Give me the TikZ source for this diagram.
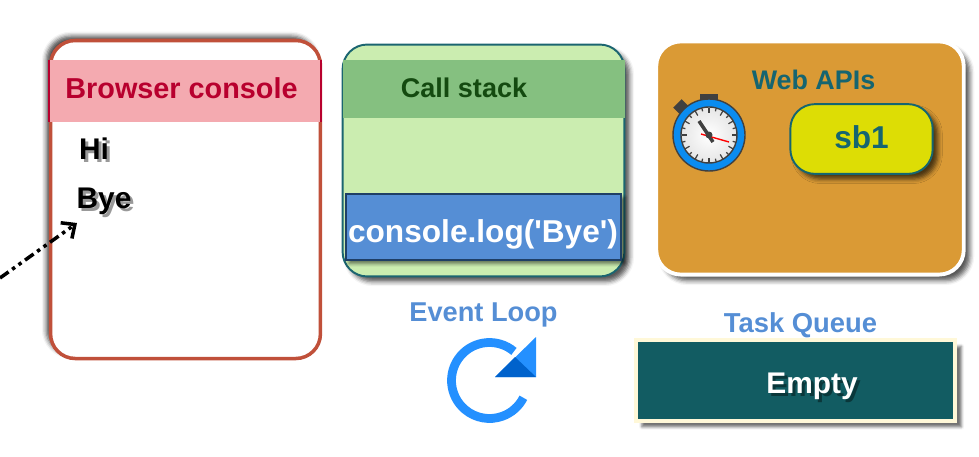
\documentclass[tikz,border=0pt]{standalone}
\usepackage{fontspec}
\setmainfont{Liberation Sans}
\newfontfamily\logfont{Liberation Sans}
\usetikzlibrary{shadows.blur, arrows.meta}

\definecolor{consoleline}{HTML}{C0503A}
\definecolor{consolehead}{HTML}{F4AAB0}
\definecolor{consoletext}{HTML}{B8002E}
\definecolor{stackfill}{HTML}{CBEDB0}
\definecolor{stackhead}{HTML}{85C080}
\definecolor{stackline}{HTML}{1B6570}
\definecolor{stacktext}{HTML}{144A10}
\definecolor{logfill}{HTML}{558ED5}
\definecolor{logline}{HTML}{1F3F66}
\definecolor{apifill}{HTML}{DA9A35}
\definecolor{apitext}{HTML}{156570}
\definecolor{timerfill}{HTML}{DDDD05}
\definecolor{queuefill}{HTML}{125C62}
\definecolor{queueline}{HTML}{FFF8D8}
\definecolor{loopblue}{HTML}{2490FF}
\definecolor{loopdark}{HTML}{0062CC}
\definecolor{ringblue}{HTML}{0A8CF0}
\definecolor{clockgray}{HTML}{404040}

\tikzset{
  panel/.style = {rectangle, inner sep=0pt, outer sep=0pt, rounded corners=14pt},
  softshadow/.style = {blur shadow={shadow xshift=3pt, shadow yshift=-3pt, shadow blur radius=2.5pt, shadow opacity=65}},
  label/.style = {anchor=base, inner sep=0pt, font=\bfseries},
  tick/.style = {clockgray, line width=0.7pt}
}

% text with a dark copy under it
\newcommand{\shadowtext}[5]{
  \path (#2) ++(3,3) node[label, #3, text=black, opacity=0.4] {#5};
  \path (#2) node[label, #3, text=#4] (#1) {#5};
}

\begin{document}
\begin{tikzpicture}[x=0.02cm, y=-0.02cm]
\useasboundingbox (0,0) rectangle (979,456);

% browser console
\path (185.5,199.5) node[panel, draw=consoleline, line width=2pt, fill=white, minimum width=153.6pt, minimum height=181pt,
  blur shadow={shadow xshift=-2.5pt, shadow yshift=2.5pt, shadow blur radius=2.5pt, shadow opacity=70}] (browser) {};
\fill[consolehead] (49,60) rectangle (321,122);
\draw[consoletext, line width=1.5pt] (49,60) -- (49,122) (321,60) -- (321,122);
\path (181.5,98) node[label, text=consoletext, font=\bfseries\fontsize{16.4}{18}\selectfont] (consolelabel) {Browser console};
\shadowtext{hi}{94,159}{font=\bfseries\fontsize{17}{20}\selectfont}{black}{Hi}
\shadowtext{bye}{104,208}{font=\bfseries\fontsize{17}{20}\selectfont}{black}{Bye}

% call stack
\path (483.5,160.5) node[panel, draw=stackline, line width=1.1pt, fill=stackfill, minimum width=160.4pt, minimum height=132pt, softshadow] (stack) {};
\fill[stackhead] (343,60) rectangle (624.5,118);
\path (464,97) node[label, text=stacktext, font=\bfseries\fontsize{15.4}{18}\selectfont] (stacklabel) {Call stack};
\path (483.5,227) node[rectangle, inner sep=0pt, draw=logline, line width=1.1pt, fill=logfill, minimum width=157pt, minimum height=37.4pt,
  blur shadow={shadow xshift=2pt, shadow yshift=-2pt, shadow blur radius=2pt, shadow opacity=55}] (logbox) {};
\path (483,242) node[label, text=white, font=\logfont\bfseries\fontsize{18}{20}\selectfont] (loglabel) {console.log('Bye')};

% web apis
\path (810,158) node[panel, draw=white, line width=2.2pt, fill=apifill, minimum width=175pt, minimum height=132.7pt,
  blur shadow={shadow xshift=3.5pt, shadow yshift=-3.5pt, shadow blur radius=2.5pt, shadow opacity=65}] (webapi) {};
\path (813.5,90) node[label, text=apitext, font=\bfseries\fontsize{15.3}{18}\selectfont] (apilabel) {Web APIs};
\path (861.5,139) node[panel, draw=apitext, line width=1.1pt, fill=timerfill, minimum width=81pt, minimum height=39.7pt, softshadow] (timer) {};
\path (861.5,148) node[label, text=apitext, font=\bfseries\fontsize{18}{20}\selectfont] (timerlabel) {sb1};

% stopwatch
\coordinate (clock) at (709,135);
\fill[clockgray] (700,94) rectangle (718,104);
\fill[clockgray, rotate around={45:(681,107)}] (675,102) rectangle (687,112);
\draw[clockgray, line width=0.8pt, fill=ringblue] (clock) circle (36);
\draw[clockgray, line width=0.8pt, inner color=white, outer color=gray!20] (clock) circle (28);
\foreach \a in {0,30,...,330}
  \draw[tick] (clock) ++(\a:27.5) -- ++(\a:-5);
\foreach \a in {15,45,...,345}
  \draw[tick] (clock) ++(\a:27.5) -- ++(\a:-3);
\draw[clockgray, line width=2pt] (699,121) -- (713,142);
\draw[red, line width=0.8pt] (701,134) -- (729,142);
\fill[clockgray] (clock) circle (3.5);

% event loop
\path (483.5,321) node[label, text=logfill, font=\bfseries\fontsize{15.5}{18}\selectfont] (looplabel) {Event Loop};
\draw[loopblue, line width=5pt] (489.5,380.5) ++(-50:38) arc (-50:-333:38);
\fill[loopblue] (536,337) -- (536,377) -- (495,377) -- cycle;
\fill[loopdark] (515,357) -- (536,377) -- (495,377) -- cycle;

% task queue
\path (800.5,332) node[label, text=logfill, font=\bfseries\fontsize{15.6}{18}\selectfont] (queuelabel) {Task Queue};
\path (795.5,380.5) node[rectangle, inner sep=0pt, draw=queueline, line width=2.3pt, fill=queuefill, minimum width=182pt, minimum height=45.9pt,
  blur shadow={shadow xshift=3.5pt, shadow yshift=-3.5pt, shadow blur radius=1.5pt, shadow opacity=55}] (queue) {};
\shadowtext{empty}{812,393}{font=\bfseries\fontsize{17}{20}\selectfont}{white}{Empty}

% arrow into the console
\coordinate (logstart) at (0,278);
\coordinate (logend) at (77,223);
\draw[line width=2pt, -{Straight Barb[length=6pt, width=11pt, line width=2pt]}, dash pattern=on 6pt off 2.5pt on 2pt off 2.5pt on 2pt off 2.5pt] (logstart) -- (logend);
\end{tikzpicture}
\end{document}
